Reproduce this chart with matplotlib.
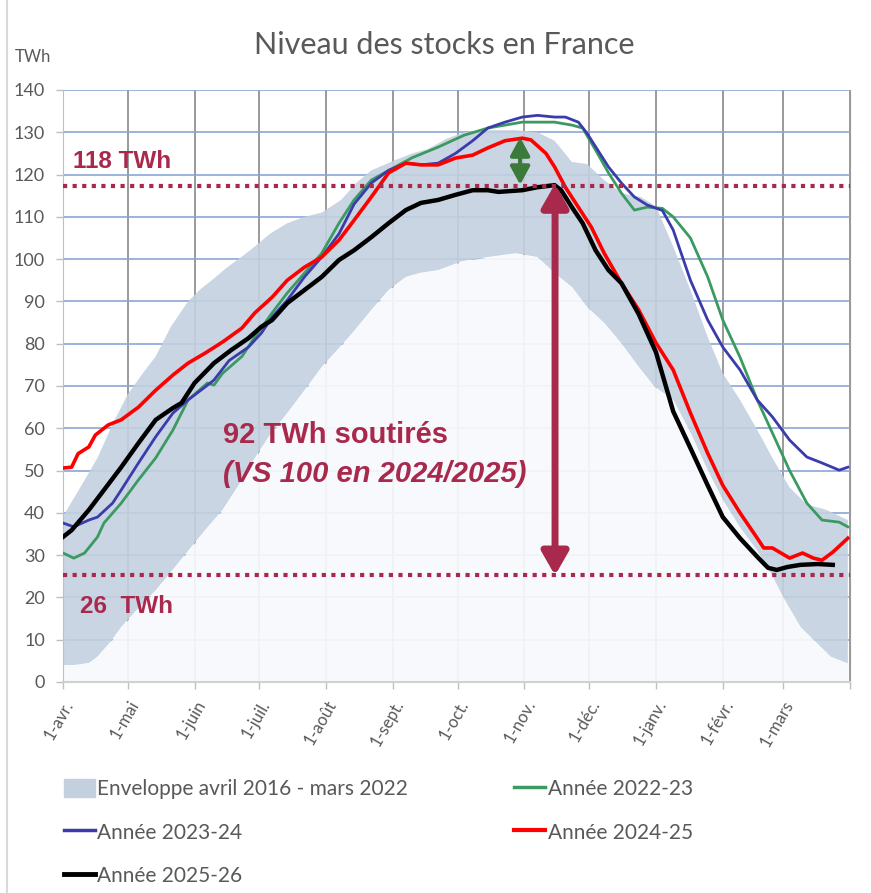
import numpy as np
import matplotlib
matplotlib.use('Agg')
import matplotlib.pyplot as plt
import matplotlib.patches as mpatches
from matplotlib.lines import Line2D

# ---- data (day index from 1 April, value in TWh) ----
month_lengths = [30, 31, 30, 31, 31, 30, 31, 30, 31, 31, 28, 31]
month_labels = ['1-avr.', '1-mai', '1-juin', '1-juil.', '1-août', '1-sept.',
                '1-oct.', '1-nov.', '1-déc.', '1-janv.', '1-févr.', '1-mars', '']

env_up_days = [0, 1, 8, 16, 23, 30, 37, 43, 50, 58, 64, 69, 76, 84, 89, 96, 104, 112, 120, 129,
               136, 143, 154, 162, 169, 178, 186, 197, 210, 220, 228, 236, 243, 251, 259, 268,
               275, 283, 291, 299, 306, 314, 322, 329, 337, 345, 354, 364]
env_up_vals = [39, 40, 46, 53, 61, 68, 73, 77, 84, 90, 93, 95, 98, 101, 103, 106, 108.5, 110, 111, 114,
               118, 121, 123.4, 125, 126, 128.5, 130, 130.5, 130.5, 130, 128, 123, 122.5, 118.7, 115.6, 114.7,
               112.5, 103, 92.7, 81.6, 73, 66.7, 59.6, 53, 46, 42, 40.7, 38.3]

env_lo_days = [0, 5, 12, 16, 22, 27, 35, 43, 50, 58, 66, 74, 82, 89, 96, 104, 112, 120, 128, 135,
               143, 151, 159, 166, 174, 185, 197, 210, 220, 228, 236, 243, 251, 259, 267, 274,
               283, 291, 299, 306, 314, 322, 329, 334, 342, 350, 356, 364]
env_lo_vals = [4, 4, 4.5, 6, 9.5, 13, 17.5, 21.7, 26, 31, 36, 40.7, 47, 53, 58.5, 63.6, 69, 74.5, 79, 83,
               88, 92.7, 95.8, 96.8, 97.4, 99.5, 100.5, 101.4, 100.5, 96.7, 93.4, 88.7, 84.9, 80, 74.5, 70,
               66.7, 58.9, 50, 43, 36.5, 31, 25, 20, 13, 9, 6, 4.4]

g_days = [0, 5, 10, 16, 19, 27, 35, 43, 51, 58, 67, 70, 74, 83, 89, 97, 104, 112, 120, 128, 135, 143,
          154, 162, 174, 186, 197, 213, 228, 236, 241, 247, 253, 259, 265, 271, 278, 283, 291, 299,
          306, 314, 322, 329, 337, 345, 352, 360, 364]
g_vals = [30.5, 29.3, 30.5, 34.3, 37.6, 42.3, 47.8, 53, 59.6, 66.7, 70.7, 70.2, 73, 77, 81.6, 87.3, 92,
          96.7, 101.4, 108.5, 114, 118.7, 121.8, 124, 126.5, 129.3, 131, 132.4, 132.4, 131.7, 131, 125.8,
          120.4, 115.6, 111.6, 112.3, 112, 110, 105, 95.8, 85.6, 76.8, 66.7, 58.9, 50, 42.3, 38.3, 37.8, 36.7]

b_days = [0, 5, 12, 16, 23, 27, 35, 43, 51, 58, 66, 70, 77, 86, 92, 97, 104, 112, 120, 128, 135, 143,
          151, 159, 166, 174, 182, 190, 197, 205, 213, 220, 228, 233, 239, 243, 248, 253, 259, 265,
          271, 278, 283, 291, 299, 306, 314, 322, 329, 337, 345, 352, 360, 364]
b_vals = [37.6, 36.7, 38.3, 39, 42.3, 45.4, 51.8, 58, 63.6, 66.7, 69.8, 71.4, 76, 79.2, 82.5, 86.3, 90.3,
          95.8, 100.5, 106, 113, 118, 121, 122.7, 122.3, 122.7, 125, 128, 131, 132.4, 133.6, 134, 133.6,
          133.6, 132.4, 129.8, 125.8, 121.8, 118, 114.7, 112.8, 111.5, 106.9, 95, 85.6, 79.2, 73.8, 66.7,
          62.7, 57.2, 53.2, 51.8, 50.1, 50.8]

r_days = [0, 4, 7, 12, 15, 21, 27, 35, 43, 51, 58, 66, 74, 83, 89, 97, 104, 112, 120, 128, 135, 143,
          151, 159, 166, 174, 182, 190, 197, 205, 213, 217, 224, 228, 233, 239, 245, 251, 259, 267,
          275, 283, 291, 299, 306, 314, 322, 325, 329, 337, 343, 348, 352, 357, 364]
r_vals = [50.6, 50.8, 54, 55.6, 58.4, 60.8, 62, 65, 69, 72.6, 75.4, 77.8, 80.4, 83.7, 87.3, 91, 95, 98.1,
          100.5, 104.5, 109.2, 114.7, 120.4, 122.7, 122.3, 122.3, 123.9, 124.6, 126.3, 128, 128.6, 128.2,
          125, 121.8, 117, 112.3, 107.6, 101.4, 94.3, 88, 80.2, 73.8, 63.6, 54.1, 46.5, 40, 34, 31.7,
          31.7, 29.3, 30.5, 29.3, 28.8, 30.7, 34]

k_days = [0, 4, 12, 19, 27, 35, 43, 51, 55, 61, 70, 78, 86, 92, 97, 104, 112, 120, 128, 135, 143, 151,
          159, 166, 174, 182, 190, 197, 202, 213, 220, 228, 231, 236, 241, 247, 253, 259, 267, 275,
          283, 291, 299, 306, 314, 322, 327, 331, 336, 342, 350, 357]
k_vals = [34.3, 35.9, 40.7, 45.4, 50.8, 56.5, 62, 64.8, 66, 70.7, 75.4, 78.5, 81.3, 84, 85.6, 89.6, 92.7,
          95.8, 99.8, 102.1, 105.2, 108.5, 111.6, 113.3, 114, 115.2, 116.3, 116.3, 115.9, 116.3, 117,
          117.5, 116.3, 112.3, 108.5, 102.1, 97.4, 94.3, 87, 78, 64, 55.3, 46.5, 39, 34, 29.6, 27, 26.5,
          27.2, 27.7, 27.9, 27.7]

level_high = 117.2
level_low = 25.2

# ---- figure ----
accent = '#a8294c'
grey_txt = '#595959'

fig = plt.figure(figsize=(8.71, 8.93), dpi=100)
ax = fig.add_axes([63/871, 1-682/893, 787/871, 592/893])

month_starts = np.concatenate([[0], np.cumsum(month_lengths)])

# grid
for d in month_starts:
    ax.axvline(d, color='#9a9a9a', lw=1.4, zorder=0)
for v in range(10, 150, 10):
    ax.axhline(v, color='#8aa6d6', lw=1.2, zorder=0)

# envelope band + white lower area
band = np.r_[env_up_days, env_lo_days[::-1]]
band_v = np.r_[env_up_vals, env_lo_vals[::-1]]
ax.fill(band, band_v, color='#c3d1df', alpha=0.9, lw=0, zorder=1)
ax.fill_between(env_lo_days, 0, env_lo_vals, color='#f8f9fc', alpha=0.93, lw=0, zorder=1)

ax.plot(g_days, g_vals, color='#3a9a62', lw=2.0, zorder=3)
ax.plot(b_days, b_vals, color='#3b3bab', lw=2.0, zorder=3)
ax.plot(r_days, r_vals, color='#ff0000', lw=2.6, zorder=4)
ax.plot(k_days, k_vals, color='black', lw=3.2, zorder=5)

# reference levels
ax.axhline(level_high, color=accent, lw=3, ls=(0, (1, 1.3)), zorder=6)
ax.axhline(level_low, color=accent, lw=3, ls=(0, (1, 1.3)), zorder=6)

ax.annotate('', xy=(228.2, level_high + 0.6), xytext=(228.2, level_low),
            arrowprops=dict(arrowstyle='<|-|>,head_length=1.4,head_width=0.8',
                            mutation_scale=10, color=accent, lw=5, shrinkA=0, shrinkB=0),
            zorder=7)
ax.annotate('', xy=(212, 128.8), xytext=(212, level_high + 0.4),
            arrowprops=dict(arrowstyle='<|-|>,head_length=1.2,head_width=0.65',
                            mutation_scale=9, color='#3b7a3b', lw=3, shrinkA=0, shrinkB=0),
            zorder=7)

bold_font = 'Liberation Sans'
ax.text(4.6, 121.5, '118 TWh', color=accent, fontsize=17.5, fontweight='bold', family=bold_font, zorder=8)
ax.text(7.9, 16.3, '26  TWh', color=accent, fontsize=17.5, fontweight='bold', family=bold_font, zorder=8)
ax.text(74, 56.5, '92 TWh soutirés', color=accent, fontsize=21, fontweight='bold', family=bold_font, zorder=8)
ax.text(74, 47.3, '(VS 100 en 2024/2025)', color=accent, fontsize=21, fontweight='bold',
        style='italic', family=bold_font, zorder=8)

# axes
ax.set_xlim(0, 365)
ax.set_ylim(0, 140)
ax.set_xticks(month_starts)
ax.set_xticklabels(month_labels, rotation=60, ha='right', rotation_mode='anchor',
                   fontsize=12, color=grey_txt, family='Lato')
ax.set_yticks(range(0, 150, 10))
ax.set_yticklabels([str(v) for v in range(0, 150, 10)], fontsize=13, color=grey_txt, family='Lato')
ax.tick_params(axis='both', colors='#bfbfbf', length=5, width=1, labelcolor=grey_txt)
ax.tick_params(axis='y', pad=8)
ax.tick_params(axis='x', pad=6)
ax.spines['top'].set_visible(False)
ax.spines['left'].set_color('#bfbfbf')
ax.spines['bottom'].set_color('#d0d0d0')
ax.spines['right'].set_color('#9a9a9a')
ax.spines['bottom'].set_linewidth(1.5)

fig.text(0.51, 1-45/893, 'Niveau des stocks en France', ha='center', va='center',
         fontsize=22, color=grey_txt, family='Lato')
fig.text(15/871, 1-57/893, 'TWh', ha='left', va='center', fontsize=12, color=grey_txt, family='Lato')

# legend (row order like reference)
h_env = mpatches.Patch(color='#c3d1df')
h_g = Line2D([], [], color='#3a9a62', lw=2.5)
h_b = Line2D([], [], color='#3b3bab', lw=2.5)
h_r = Line2D([], [], color='#ff0000', lw=3)
h_k = Line2D([], [], color='black', lw=3.5)
leg = fig.legend([h_env, h_b, h_k, h_g, h_r],
                 ['Enveloppe avril 2016 - mars 2022', 'Année 2023-24', 'Année 2025-26',
                  'Année 2022-23', 'Année 2024-25'],
                 ncol=2, loc='upper left', bbox_to_anchor=(45/871, 1-760/893), frameon=False,
                 prop={'family': 'Lato', 'size': 15}, labelcolor=grey_txt,
                 handlelength=1.5, handleheight=1.0, handletextpad=0.1,
                 labelspacing=1.1, columnspacing=5.1)

fig.add_artist(Line2D([7/871, 7/871], [0, 1], color='#d9d9d9', lw=1.5))

fig.savefig('out.png', dpi=100)
